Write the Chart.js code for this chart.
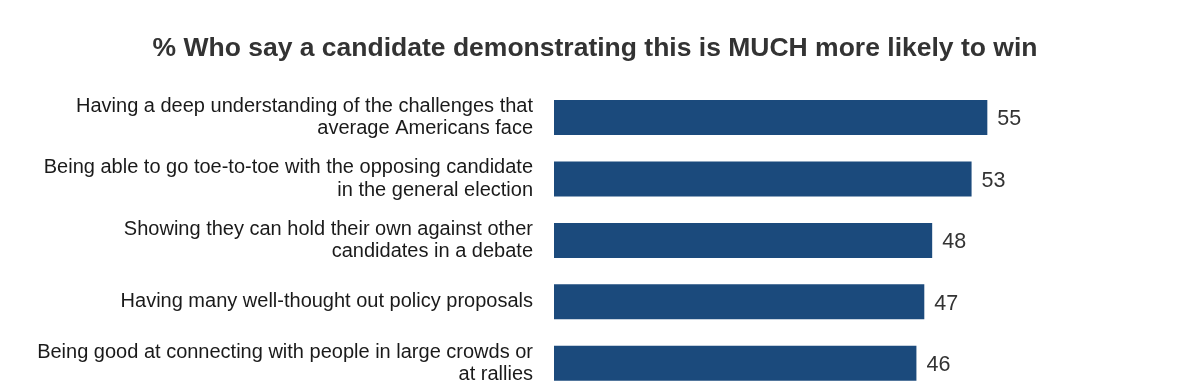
<!DOCTYPE html>
<html>
<head>
<meta charset="utf-8">
<script src="https://cdn.jsdelivr.net/npm/chart.js@4"></script>
<style>
  html, body { margin: 0; padding: 0; background: #fff; overflow: hidden; }
  #wrap { position: relative; width: 1178px; height: 394px; }
</style>
</head>
<body>
<div id="wrap"><canvas id="chart"></canvas></div>
<script>
const chartTitle = '% Who say a candidate demonstrating this is MUCH more likely to win';
const categories = [
    ['Having a deep understanding of the challenges that', 'average Americans face'],
    ['Being able to go toe-to-toe with the opposing candidate', 'in the general election'],
    ['Showing they can hold their own against other', 'candidates in a debate'],
    ['Having many well-thought out policy proposals'],
    ['Being good at connecting with people in large crowds or', 'at rallies']
];
const values = [55, 53, 48, 47, 46];

Chart.defaults.font.family = '"Liberation Sans", Arial, sans-serif';

// draws the number just past the end of each bar
const valueLabels = {
    id: 'valueLabels',
    afterDatasetsDraw(chart) {
        const ctx = chart.ctx;
        const meta = chart.getDatasetMeta(0);
        ctx.save();
        ctx.font = '21.5px "Liberation Sans", Arial, sans-serif';
        ctx.fillStyle = '#333333';
        ctx.textAlign = 'left';
        ctx.textBaseline = 'middle';
        meta.data.forEach((bar, i) => {
            ctx.fillText(String(values[i]), bar.x + 10, bar.y + 2);
        });
        ctx.restore();
    }
};

new Chart(document.getElementById('chart').getContext('2d'), {
    type: 'bar',
    data: {
        labels: categories,
        datasets: [{
            data: values,
            backgroundColor: '#1b4a7c',
            categoryPercentage: 1,
            barPercentage: 0.57
        }]
    },
    options: {
        indexAxis: 'y',
        responsive: true,
        maintainAspectRatio: false,
        animation: false,
        layout: { padding: { left: 12, right: 0, top: 0, bottom: 0 } },
        plugins: {
            legend: { display: false },
            tooltip: { enabled: false },
            title: {
                display: true,
                text: chartTitle,
                color: '#333333',
                font: { size: 26.5, weight: 'bold', lineHeight: 1.2 },
                padding: { top: 32.6, bottom: 22.4 }
            }
        },
        scales: {
            x: { display: false, min: 0, max: 79.2 },
            y: {
                grid: { display: false, drawTicks: false },
                border: { display: false },
                ticks: {
                    color: '#1a1a1a',
                    font: { size: 20, lineHeight: 1.12 },
                    padding: 21,
                    autoSkip: false
                },
                afterFit(scale) {
                    scale.width = 554 - 12;
                    // no extra room for the tall first/last labels
                    scale.paddingTop = 0;
                    scale.paddingBottom = 0;
                }
            }
        }
    },
    plugins: [valueLabels]
});
</script>
</body>
</html>
